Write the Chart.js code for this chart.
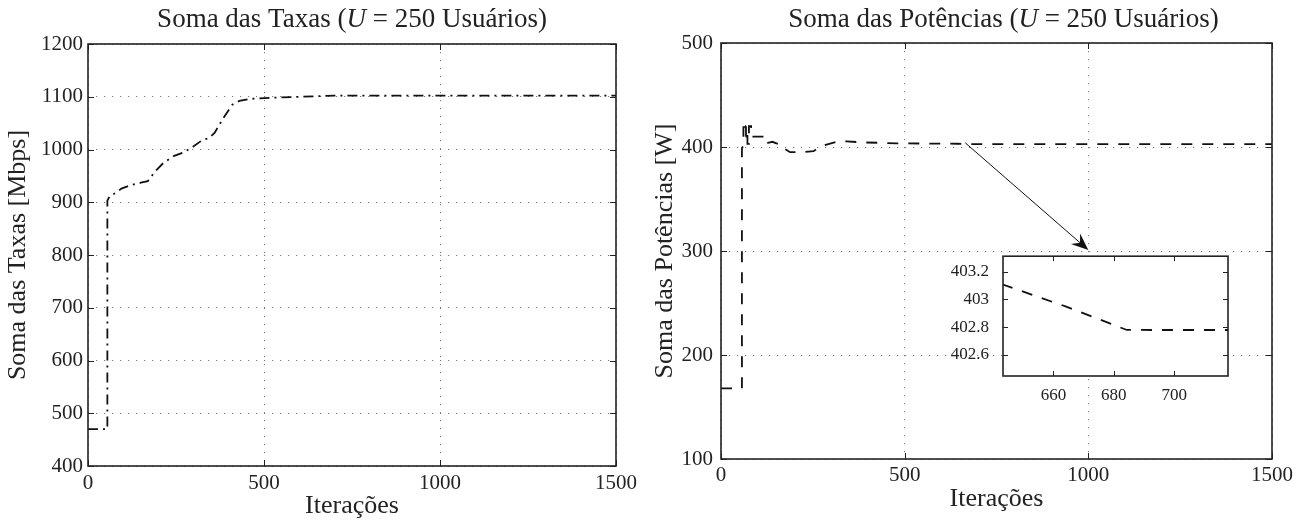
<!DOCTYPE html>
<html>
<head>
<meta charset="utf-8">
<script src="https://cdn.jsdelivr.net/npm/chart.js@4/dist/chart.umd.min.js"></script>
<style>
html, body { margin: 0; padding: 0; background: #fff; }
#wrap { position: relative; width: 1308px; height: 523px; }
canvas { position: absolute; }
</style>
</head>
<body>
<div id="wrap">
  <canvas id="taxas" width="650" height="523" style="left:0;top:0;width:650px;height:523px"></canvas>
  <canvas id="potencias" width="658" height="523" style="left:650px;top:0;width:658px;height:523px"></canvas>
  <canvas id="detalhe" width="300" height="170" style="left:940px;top:240px;width:300px;height:170px"></canvas>
</div>
<script>
// Soma das Taxas (left)
const taxasIter = [0, 55, 55, 62, 80, 95, 120, 150, 170, 190, 215, 245, 270, 300, 325, 345, 360, 385, 410, 430, 460, 520, 600, 700, 900, 1500];
const taxasMbps = [470, 470, 903, 912, 918, 926, 932, 937, 940, 958, 975, 988, 994, 1006, 1018, 1022, 1032, 1060, 1085, 1092, 1096, 1098, 1100, 1102, 1102, 1102];
const taxasYTicks = [400, 500, 600, 700, 800, 900, 1000, 1100, 1200];

// Soma das Potências (right)
const potIter = [0, 57, 57, 61, 61, 64, 64, 68, 68, 72, 72, 76, 76, 82, 82, 109, 109, 121, 121, 128, 140, 155, 161, 170, 188, 220, 252, 274, 315, 342, 379, 433, 479, 560, 643.3, 664, 684.3, 1500];
const potW = [168, 168, 399, 401, 419, 419, 410, 410, 420, 420, 403, 403, 420, 420, 410, 410, 410, 410, 404, 404, 405, 403, 403, 399, 395, 395, 396, 401, 405, 405.5, 404.5, 404, 403.5, 403.3, 403.107, 402.95, 402.78, 402.773];
const potYTicks = [100, 200, 300, 400, 500];

const iterTicks = [0, 500, 1000, 1500];

// detalhe (inset)
const zoomXTicks = [660, 680, 700];
const zoomYTicks = [402.6, 402.8, 403, 403.2];

// seta: from curve to inset
const arrowFrom = [665, 404];
const arrowTo = [1000, 301];

Chart.defaults.font.family = '"Liberation Serif", "DejaVu Serif", serif';
Chart.defaults.color = '#222';

function toPoints(xs, ys) {
  return xs.map((x, i) => ({ x: x, y: ys[i] }));
}

function fixTicks(list) {
  return function (scale) {
    scale.ticks = list.map(v => ({ value: v }));
  };
}

const plain = v => String(Math.round(v * 10) / 10);

// frame + inward tick marks on all four sides
const framePlugin = {
  id: 'frame',
  afterDatasetsDraw(chart, args, opts) {
    const { ctx, chartArea: a, scales } = chart;
    const len = opts.len || 6;
    ctx.save();
    ctx.strokeStyle = '#222';
    ctx.lineWidth = 1;
    ctx.beginPath();
    scales.x.ticks.forEach(t => {
      const px = Math.round(scales.x.getPixelForValue(t.value)) + 0.5;
      ctx.moveTo(px, a.bottom); ctx.lineTo(px, a.bottom - len);
      ctx.moveTo(px, a.top); ctx.lineTo(px, a.top + len);
    });
    scales.y.ticks.forEach(t => {
      const py = Math.round(scales.y.getPixelForValue(t.value)) + 0.5;
      ctx.moveTo(a.left, py); ctx.lineTo(a.left + len, py);
      ctx.moveTo(a.right, py); ctx.lineTo(a.right - len, py);
    });
    ctx.stroke();
    ctx.lineWidth = 1.6;
    ctx.strokeRect(a.left, a.top, a.right - a.left, a.bottom - a.top);
    ctx.restore();
  }
};

// title with italic U
const mixedTitle = {
  id: 'mixedTitle',
  afterDraw(chart, args, opts) {
    if (!opts.parts) return;
    const { ctx, chartArea: a } = chart;
    ctx.save();
    ctx.fillStyle = '#222';
    ctx.textBaseline = 'middle';
    const fam = Chart.defaults.font.family;
    const fonts = opts.parts.map(p => (p.it ? 'italic ' : '') + opts.size + 'px ' + fam);
    let total = 0;
    const widths = opts.parts.map((p, i) => { ctx.font = fonts[i]; const w = ctx.measureText(p.t).width; total += w; return w; });
    let x = (a.left + a.right) / 2 + (opts.dx || 0) - total / 2;
    opts.parts.forEach((p, i) => {
      ctx.font = fonts[i];
      ctx.fillText(p.t, x, opts.y);
      x += widths[i];
    });
    ctx.restore();
  }
};

const whiteArea = {
  id: 'whiteArea',
  beforeDraw(chart) {
    const { ctx, chartArea: a } = chart;
    ctx.save();
    ctx.fillStyle = '#fff';
    ctx.fillRect(a.left, a.top, a.right - a.left, a.bottom - a.top);
    ctx.restore();
  }
};

const arrowPlugin = {
  id: 'arrow',
  afterDatasetsDraw(chart) {
    const { ctx, scales: { x, y } } = chart;
    const x1 = x.getPixelForValue(arrowFrom[0]), y1 = y.getPixelForValue(arrowFrom[1]);
    const x2 = x.getPixelForValue(arrowTo[0]), y2 = y.getPixelForValue(arrowTo[1]);
    const ang = Math.atan2(y2 - y1, x2 - x1);
    const L = 17, W = 7, notch = 11;
    ctx.save();
    ctx.strokeStyle = '#111';
    ctx.lineWidth = 1;
    ctx.beginPath();
    ctx.moveTo(x1, y1);
    ctx.lineTo(x2 - notch * Math.cos(ang), y2 - notch * Math.sin(ang));
    ctx.stroke();
    ctx.fillStyle = '#111';
    ctx.beginPath();
    ctx.moveTo(x2, y2);
    ctx.lineTo(x2 - L * Math.cos(ang) + W * Math.sin(ang), y2 - L * Math.sin(ang) - W * Math.cos(ang));
    ctx.lineTo(x2 - notch * Math.cos(ang), y2 - notch * Math.sin(ang));
    ctx.lineTo(x2 - L * Math.cos(ang) - W * Math.sin(ang), y2 - L * Math.sin(ang) + W * Math.cos(ang));
    ctx.closePath();
    ctx.fill();
    ctx.restore();
  }
};

function gridOpts() {
  return { color: '#7a7a7a', lineWidth: 1, drawTicks: false };
}

function mainChart(id, cfg) {
  return new Chart(document.getElementById(id), {
    type: 'line',
    data: {
      datasets: [{
        data: toPoints(cfg.xs, cfg.ys),
        borderColor: '#111',
        borderWidth: 1.8,
        borderDash: cfg.dash,
        pointRadius: 0,
        tension: 0,
        fill: false
      }]
    },
    options: {
      responsive: false,
      animation: false,
      events: [],
      layout: { padding: { left: 0, top: cfg.top, right: cfg.right, bottom: 0 } },
      plugins: {
        legend: { display: false },
        tooltip: { enabled: false },
        frame: { len: 6 },
        mixedTitle: { parts: cfg.title, size: 27, y: 20, dx: cfg.titleDx || 0 }
      },
      scales: {
        x: {
          type: 'linear', min: 0, max: 1500,
          afterBuildTicks: fixTicks(iterTicks),
          afterFit(s) { s.height = cfg.xH; },
          grid: gridOpts(),
          border: { display: false, dash: [1.2, 6.8] },
          ticks: { font: { size: 21 }, padding: cfg.xPad, maxRotation: 0, callback: plain },
          title: { display: true, text: 'Iterações', font: { size: 26 }, padding: { top: 0, bottom: cfg.xTitlePad } }
        },
        y: {
          type: 'linear', min: cfg.yMin, max: cfg.yMax,
          afterBuildTicks: fixTicks(cfg.yTicks),
          afterFit(s) { s.width = cfg.yW; },
          grid: gridOpts(),
          border: { display: false, dash: [1.2, 6.8] },
          ticks: { font: { size: 21 }, padding: cfg.yPad, callback: plain },
          title: { display: true, text: cfg.yTitle, font: { size: 26 }, padding: { top: cfg.yTitlePad, bottom: 0 } }
        }
      }
    },
    plugins: [framePlugin, mixedTitle].concat(cfg.extra || [])
  });
}

mainChart('taxas', {
  xs: taxasIter, ys: taxasMbps, dash: [10, 5, 2, 5],
  yMin: 400, yMax: 1200, yTicks: taxasYTicks,
  yTitle: 'Soma das Taxas [Mbps]',
  title: [{ t: 'Soma das Taxas (' }, { t: 'U', it: true }, { t: ' = 250 Usuários)' }],
  top: 44, right: 34, xH: 57, yW: 88, xPad: 5, yPad: 5, xTitlePad: 1, yTitlePad: 3
});

mainChart('potencias', {
  xs: potIter, ys: potW, dash: [11, 10],
  yMin: 100, yMax: 500, yTicks: potYTicks,
  yTitle: 'Soma das Potências [W]',
  title: [{ t: 'Soma das Potências (' }, { t: 'U', it: true }, { t: ' = 250 Usuários)' }],
  top: 43, right: 36, xH: 64, yW: 71, xPad: 4, yPad: 8, xTitlePad: 8, yTitlePad: 0, titleDx: 7,
  extra: [arrowPlugin]
});

// inset: zoom on the settled part of the power curve
new Chart(document.getElementById('detalhe'), {
  type: 'line',
  data: {
    datasets: [{
      data: toPoints(potIter, potW),
      borderColor: '#111',
      borderWidth: 1.8,
      borderDash: [11, 10],
      pointRadius: 0,
      tension: 0,
      fill: false
    }]
  },
  options: {
    responsive: false,
    animation: false,
    events: [],
    layout: { padding: { left: 0, top: 12, right: 12, bottom: 0 } },
    plugins: { legend: { display: false }, tooltip: { enabled: false }, frame: { len: 5 } },
    scales: {
      x: {
        type: 'linear', min: 643.3, max: 717.8,
        afterBuildTicks: fixTicks(zoomXTicks),
        afterFit(s) { s.height = 34; },
        grid: { display: false },
        border: { display: false },
        ticks: { font: { size: 17 }, padding: 1, maxRotation: 0, callback: plain }
      },
      y: {
        type: 'linear', min: 402.448, max: 403.312,
        afterBuildTicks: fixTicks(zoomYTicks),
        afterFit(s) { s.width = 63; },
        grid: { display: false },
        border: { display: false },
        ticks: { font: { size: 17 }, padding: 6, callback: plain }
      }
    }
  },
  plugins: [whiteArea, framePlugin]
});
</script>
</body>
</html>
